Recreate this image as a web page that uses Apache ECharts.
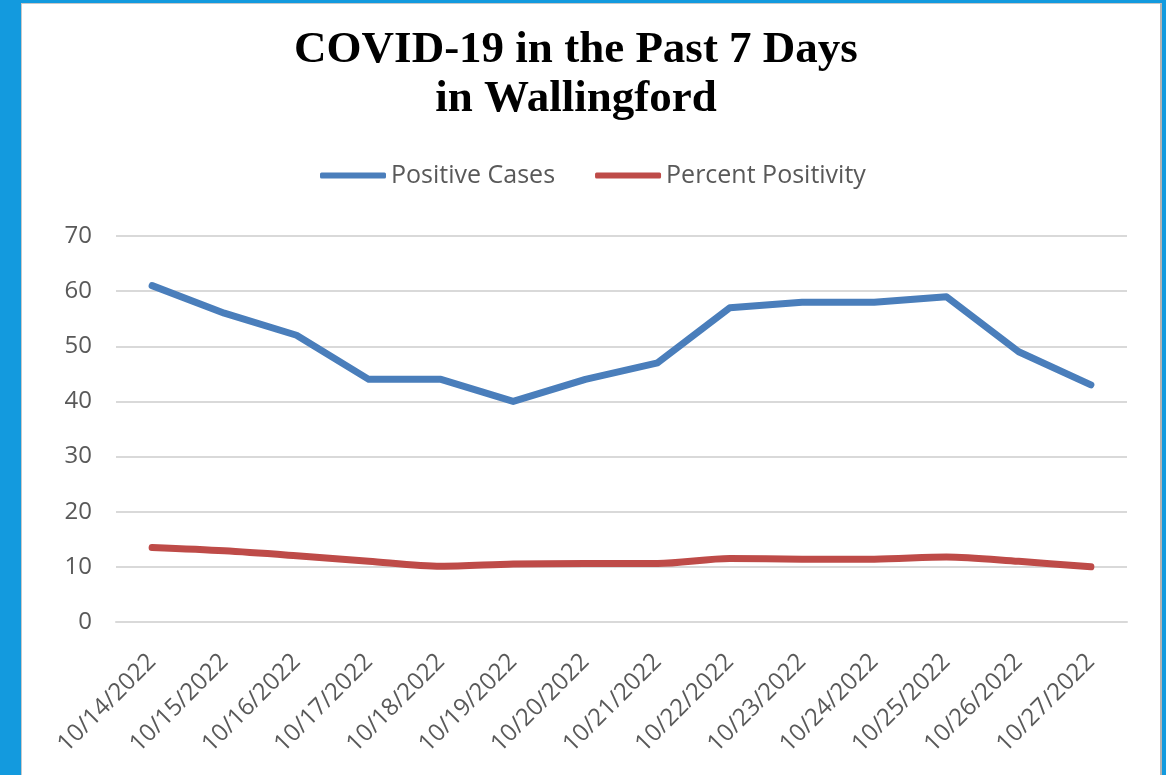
<!DOCTYPE html>
<html>
<head>
<meta charset="utf-8">
<title>COVID-19 in the Past 7 Days in Wallingford</title>
<script src="https://cdn.jsdelivr.net/npm/echarts@6/dist/echarts.min.js"></script>
<style>
  html, body { margin: 0; padding: 0; background: #139ade; overflow: hidden; }
  #frame {
    position: absolute; left: 21px; top: 3px; width: 1138px; height: 780px;
    background: #fff; border-left: 1px solid #c8c8c8; border-top: 1px solid #c8c8c8;
    border-right: 2px solid #b4b4b4;
  }
  #chart { position: absolute; left: 0; top: 0; width: 1166px; height: 775px; }
</style>
</head>
<body>
<div id="frame"></div>
<div id="chart"></div>
<script>
// data
var dates = ['10/14/2022', '10/15/2022', '10/16/2022', '10/17/2022', '10/18/2022', '10/19/2022', '10/20/2022',
  '10/21/2022', '10/22/2022', '10/23/2022', '10/24/2022', '10/25/2022', '10/26/2022', '10/27/2022']
var positiveCases = [61, 56, 52, 44, 44, 40, 44, 47, 57, 58, 58, 59, 49, 43]
var percentPositivity = [13.5, 12.9, 12.0, 11.0, 10.1, 10.5, 10.6, 10.6, 11.5, 11.4, 11.4, 11.8, 11.0, 10.0]

var labelFont = 'Open Sans'
var labelColor = '#595959'

var myChart = echarts.init(document.getElementById('chart'))
var option = {
  backgroundColor: 'transparent',
  animation: false,
  title: {
    text: 'COVID-19 in the Past 7 Days\nin Wallingford',
    left: 571,
    top: 21,
    textAlign: 'center',
    textStyle: {
      fontFamily: 'Liberation Serif',
      fontWeight: 'bold',
      fontSize: 45,
      lineHeight: 49,
      color: '#000'
    }
  },
  legend: {
    left: 315,
    top: 158,
    icon: 'roundRect',
    itemWidth: 66,
    itemHeight: 6,
    itemGap: 40,
    textStyle: { fontFamily: labelFont, fontSize: 25, color: labelColor },
    data: ['Positive Cases', 'Percent Positivity']
  },
  grid: { left: 116, right: 39, top: 236, bottom: 153 },
  xAxis: {
    type: 'category',
    boundaryGap: true,
    data: dates,
    axisLine: { show: true, lineStyle: { color: '#d9d9d9', width: 2 } },
    axisTick: { show: false },
    axisLabel: {
      rotate: 45,
      interval: 0,
      margin: 36,
      fontFamily: labelFont,
      fontSize: 24,
      color: labelColor
    }
  },
  yAxis: {
    type: 'value',
    min: 0,
    max: 70,
    interval: 10,
    axisLine: { show: false },
    axisTick: { show: false },
    splitLine: { lineStyle: { color: '#d9d9d9', width: 2 } },
    axisLabel: { margin: 24, fontFamily: labelFont, fontSize: 24, color: labelColor }
  },
  series: [
    {
      name: 'Positive Cases',
      type: 'line',
      data: positiveCases,
      symbol: 'none',
      color: '#4a7ebb',
      lineStyle: { width: 7, cap: 'round', join: 'round' }
    },
    {
      name: 'Percent Positivity',
      type: 'line',
      data: percentPositivity,
      symbol: 'none',
      smooth: 0.3,
      color: '#be4b48',
      lineStyle: { width: 7, cap: 'round', join: 'round' }
    }
  ]
}
myChart.setOption(option)
</script>
</body>
</html>
